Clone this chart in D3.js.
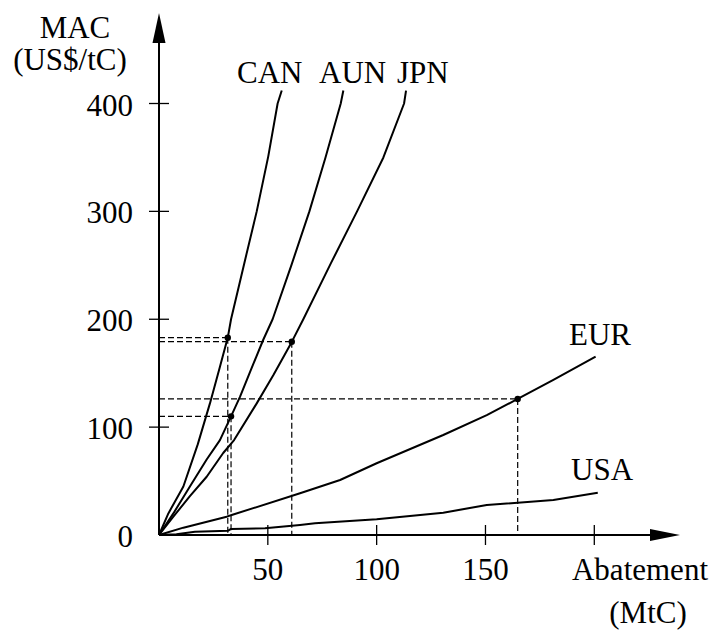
<!DOCTYPE html>
<html>
<head>
    <title>MAC curves</title>
    <script src="https://d3js.org/d3.v7.min.js"></script>
    <style>
        body { margin: 0; background: #fff; }
    </style>
</head>
<body>
    <div id="chart"></div>
    <script>
        // Marginal abatement cost curves
        const canX = [0, 4.3, 11.2, 17.8, 23.4, 28, 31.6, 33.1, 39.2, 44.9, 50.2, 54.5, 56.4];
        const canY = [0, 20, 45, 84, 122, 156, 183, 200, 252, 300, 351, 400, 412];

        const aunX = [0, 6.6, 14.2, 21.9, 28, 33.1, 37.2, 41.8, 47.9, 52.2, 60.8, 69.1, 76.5, 83.5, 84.7];
        const aunY = [0, 20, 45, 70, 88, 110, 128, 151, 181, 200, 250, 300, 350, 400, 412];

        const jpnX = [0, 6.6, 14.2, 21.9, 29.5, 34.5, 44.9, 52.5, 61, 66.3, 79, 91, 103.1, 112.6, 113.5];
        const jpnY = [0, 17, 36, 54, 76, 88, 122, 148, 179, 200, 252, 300, 350, 400, 412];

        const eurX = [0, 11.2, 31.1, 33.4, 64.8, 83.2, 100, 130.6, 150.6, 164.8, 181.2, 200.6];
        const eurY = [0, 6.8, 17, 18.5, 38.7, 51, 66.5, 92.7, 111.2, 126.1, 143.7, 165.3];

        const usaX = [0, 8, 16.5, 31.8, 33.1, 48.7, 64.8, 71.7, 100, 130.6, 150.6, 181.2, 201.6];
        const usaY = [0, 0.8, 3.1, 4, 5.6, 6.2, 9.3, 10.8, 14.6, 20.7, 27.8, 32.4, 39.2];

        // marked points (abatement, MAC) with dashed guides
        const markX = [31.6, 33.1, 61, 164.8];
        const markY = [182.9, 110, 179.2, 126.1];

        const xTicks = [50, 100, 150, 200];
        const xTickLabels = ["50", "100", "150", ""];
        const yTicks = [0, 100, 200, 300, 400];
        const yTickLabels = ["0", "100", "200", "300", "400"];

        const width = 714, height = 639;

        const svg = d3.select("#chart")
            .append("svg")
            .attr("width", width)
            .attr("height", height)
            .attr("font-family", "'Liberation Serif', 'DejaVu Serif', Times, serif")
            .attr("font-size", 31);

        const x = d3.scaleLinear().domain([0, 200]).range([159, 594.3]);
        const y = d3.scaleLinear().domain([0, 400]).range([535, 103.5]);

        const line = d3.line()
            .x(d => x(d[0]))
            .y(d => y(d[1]));

        // dashed guide lines
        const guides = svg.append("g")
            .attr("stroke", "#000")
            .attr("stroke-width", 1.2)
            .attr("stroke-dasharray", "6,3")
            .attr("fill", "none");

        markX.forEach((mx, i) => {
            guides.append("line")
                .attr("x1", x(0)).attr("y1", y(markY[i]))
                .attr("x2", x(mx)).attr("y2", y(markY[i]));
            guides.append("line")
                .attr("x1", x(mx)).attr("y1", y(markY[i]))
                .attr("x2", x(mx)).attr("y2", y(0));
        });

        // curves
        const series = [
            { name: "CAN", xs: canX, ys: canY },
            { name: "AUN", xs: aunX, ys: aunY },
            { name: "JPN", xs: jpnX, ys: jpnY },
            { name: "EUR", xs: eurX, ys: eurY },
            { name: "USA", xs: usaX, ys: usaY }
        ];

        svg.append("g")
            .selectAll("path")
            .data(series)
            .enter()
            .append("path")
            .attr("d", s => line(s.xs.map((v, i) => [v, s.ys[i]])))
            .attr("fill", "none")
            .attr("stroke", "#000")
            .attr("stroke-width", 2)
            .attr("stroke-linejoin", "round");

        // dots
        svg.append("g")
            .selectAll("circle")
            .data(markX)
            .enter()
            .append("circle")
            .attr("cx", d => x(d))
            .attr("cy", (d, i) => y(markY[i]))
            .attr("r", 3.2)
            .attr("fill", "#000");

        // axes
        const axes = svg.append("g").attr("stroke", "#000").attr("stroke-width", 2);
        axes.append("line")
            .attr("x1", x(0)).attr("y1", y(0))
            .attr("x2", 652).attr("y2", y(0));
        axes.append("line")
            .attr("x1", x(0)).attr("y1", y(0))
            .attr("x2", x(0)).attr("y2", 42);

        svg.append("path")
            .attr("d", `M680,${y(0)} L650,${y(0) - 6} L650,${y(0) + 6} Z`)
            .attr("fill", "#000");
        svg.append("path")
            .attr("d", `M${x(0)},13 L${x(0) - 6.5},43 L${x(0) + 6.5},43 Z`)
            .attr("fill", "#000");

        // ticks
        axes.selectAll(".xt")
            .data(xTicks)
            .enter()
            .append("line")
            .attr("stroke-width", 1.3)
            .attr("x1", d => x(d)).attr("x2", d => x(d))
            .attr("y1", y(0) - 10).attr("y2", y(0) + 10);

        axes.selectAll(".yt")
            .data(yTicks.slice(1))
            .enter()
            .append("line")
            .attr("stroke-width", 1.3)
            .attr("x1", x(0) - 10).attr("x2", x(0) + 10)
            .attr("y1", d => y(d)).attr("y2", d => y(d));

        // tick labels
        svg.append("g")
            .selectAll("text")
            .data(yTicks)
            .enter()
            .append("text")
            .attr("x", 133)
            .attr("y", d => y(d) + 12)
            .attr("text-anchor", "end")
            .text((d, i) => yTickLabels[i]);

        svg.append("g")
            .selectAll("text")
            .data(xTicks)
            .enter()
            .append("text")
            .attr("x", d => x(d))
            .attr("y", 580)
            .attr("text-anchor", "middle")
            .text((d, i) => xTickLabels[i]);

        // axis titles
        svg.append("text").attr("x", 75).attr("y", 38).attr("text-anchor", "middle").text("MAC");
        svg.append("text").attr("x", 70).attr("y", 70).attr("text-anchor", "middle").text("(US$/tC)");
        svg.append("text").attr("x", 708).attr("y", 580).attr("text-anchor", "end").text("Abatement");
        svg.append("text").attr("x", 648).attr("y", 623).attr("text-anchor", "middle").text("(MtC)");

        // series labels
        const seriesLabels = [
            { t: "CAN", x: 237, y: 83 },
            { t: "AUN", x: 319, y: 83 },
            { t: "JPN", x: 397, y: 83 },
            { t: "EUR", x: 569, y: 345 },
            { t: "USA", x: 571, y: 480 }
        ];
        svg.append("g")
            .selectAll("text")
            .data(seriesLabels)
            .enter()
            .append("text")
            .attr("x", d => d.x)
            .attr("y", d => d.y)
            .text(d => d.t);
    </script>
</body>
</html>
